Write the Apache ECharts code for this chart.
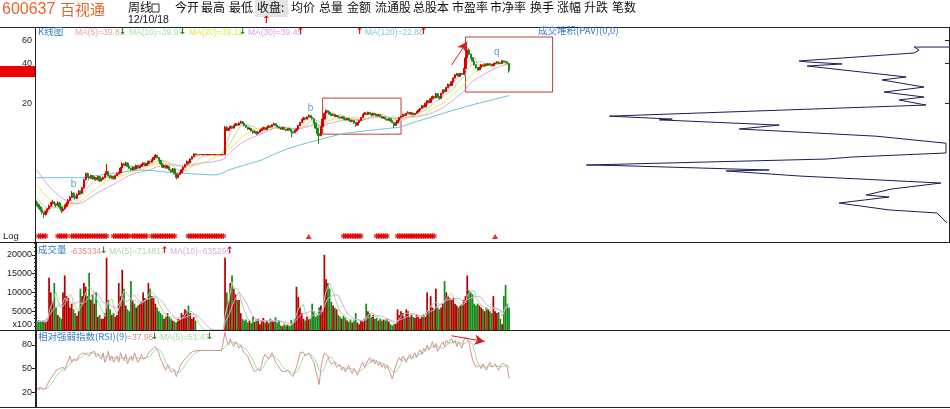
<!DOCTYPE html>
<html><head><meta charset="utf-8">
<script src="https://cdn.jsdelivr.net/npm/echarts@6/dist/echarts.min.js"></script>
<style>html,body{margin:0;padding:0;background:#fff}#c{width:950px;height:409px}</style>
</head><body><div id="c"></div>
<script>
// weekly bars
const closes=[3.45,3.3,3.15,3.0,2.9,3.05,3.2,3.35,3.5,3.6,3.5,3.4,3.55,3.3,3.1,
3.2,3.35,3.5,3.7,3.9,4.2,4.0,3.85,4.1,4.35,4.2,4.6,
5.3,5.9,5.6,5.5,
5.7,5.4,5.5,5.3,5.6,5.2,5.35,5.5,5.8,6.1,5.7,5.5,5.6,5.4,5.7,5.9,6.0,
6.5,7.0,6.8,7.1,
6.7,6.5,6.3,6.6,6.4,6.8,6.5,6.7,
6.9,7.1,6.8,7.0,7.3,7.2,7.5,7.8,8.1,7.8,
7.4,7.0,6.6,6.8,6.5,6.7,6.3,6.1,6.4,5.9,5.5,5.8,6.0,
6.3,6.6,6.9,7.3,7.1,7.6,7.9,8.3,8.2,
8.2,8.2,8.2,8.2,8.2,8.2,8.2,8.2,8.2,8.2,8.2,8.2,8.2,8.2,8.2,8.2,
13.2,
12.5,12.9,13.4,13.0,13.6,14.0,13.7,14.2,14.5,14.1,
13.6,13.2,12.8,12.9,12.4,12.0,12.2,11.8,12.1,12.5,
12.8,13.1,12.7,13.2,13.5,13.3,13.8,14.0,13.6,13.3,13.0,12.8,13.1,12.7,12.5,12.9,12.6,
12.2,12.0,12.4,12.8,
13.6,14.3,15.0,15.5,15.2,15.8,16.2,15.7,15.3,
14.2,13.0,11.8,11.4,
13.3,15.2,16.8,17.6,17.2,
16.6,16.2,16.5,15.9,16.1,15.7,15.5,15.8,15.3,15.0,15.4,14.9,14.6,14.8,14.2,13.7,14.3,14.8,
15.6,16.4,16.9,16.5,17.1,16.7,16.3,16.8,16.5,16.1,16.4,
15.9,15.5,15.7,15.2,14.9,15.3,14.7,14.3,13.6,14.2,14.9,15.6,
15.9,16.5,16.2,16.8,17.1,16.6,16.9,16.4,16.8,17.3,17.8,
18.3,19.2,18.8,20.0,20.9,20.3,21.6,22.5,22.0,23.6,
22.4,21.8,23.8,25.2,24.6,26.3,27.8,27.2,29.0,
31.0,32.8,33.4,
32.0,33.5,33.0,36.5,44.0,50.5,47.0,44.0,41.5,39.0,
37.0,35.8,37.3,39.0,38.2,39.5,38.8,39.8,39.2,38.4,
39.6,40.2,40.9,40.0,39.95,
41.8,41.2,41.0,39.85,35.2];
const opens=[3.6,3.45,3.3,3.15,3.0,2.9,3.05,3.2,3.35,3.5,3.6,3.5,3.4,3.55,3.3,
3.1,3.2,3.35,3.5,3.7,3.9,4.2,4.0,3.85,4.1,4.35,4.2,
4.6,5.3,5.9,5.6,
5.5,5.7,5.4,5.5,5.3,5.6,5.2,5.35,5.5,5.8,6.1,5.7,5.5,5.6,5.4,5.7,5.9,
6.0,6.5,7.0,6.8,
7.1,6.7,6.5,6.3,6.6,6.4,6.8,6.5,
6.7,6.9,7.1,6.8,7.0,7.3,7.2,7.5,7.8,8.1,
7.8,7.4,7.0,6.6,6.8,6.5,6.7,6.3,6.1,6.4,5.9,5.5,5.8,
6.0,6.3,6.6,6.9,7.3,7.1,7.6,7.9,8.3,
8.2,8.2,8.2,8.2,8.2,8.2,8.2,8.2,8.2,8.2,8.2,8.2,8.2,8.2,8.2,8.2,
8.2,
13.2,12.5,12.9,13.4,13.0,13.6,14.0,13.7,14.2,14.5,
14.1,13.6,13.2,12.8,12.9,12.4,12.0,12.2,11.8,12.1,
12.5,12.8,13.1,12.7,13.2,13.5,13.3,13.8,14.0,13.6,13.3,13.0,12.8,13.1,12.7,12.5,12.9,
12.6,12.2,12.0,12.4,
12.8,13.6,14.3,15.0,15.5,15.2,15.8,16.2,15.7,
15.3,14.2,13.0,11.8,
11.4,13.3,15.2,16.8,17.6,
17.2,16.6,16.2,16.5,15.9,16.1,15.7,15.5,15.8,15.3,15.0,15.4,14.9,14.6,14.8,14.2,13.7,14.3,
14.8,15.6,16.4,16.9,16.5,17.1,16.7,16.3,16.8,16.5,16.1,
16.4,15.9,15.5,15.7,15.2,14.9,15.3,14.7,14.3,13.6,14.2,14.9,
15.6,15.9,16.5,16.2,16.8,17.1,16.6,16.9,16.4,16.8,17.3,
17.8,18.3,19.2,18.8,20.0,20.9,20.3,21.6,22.5,22.0,
23.6,22.4,21.8,23.8,25.2,24.6,26.3,27.8,27.2,
29.0,31.0,32.8,
33.4,32.0,33.5,33.0,36.5,44.0,50.5,47.0,44.0,41.5,
39.0,37.0,35.8,37.3,39.0,38.2,39.5,38.8,39.8,39.2,
38.4,39.6,40.2,40.9,40.0,
39.95,41.8,41.2,41.0,39.85];
const lows=[3.35,3.2,3.05,2.9,2.72,2.85,3.0,3.15,3.3,3.45,3.4,3.3,3.35,3.2,2.98,
3.05,3.15,3.3,3.45,3.65,3.85,3.9,3.75,3.8,4.05,4.1,4.15,
4.55,5.25,5.5,5.35,
5.4,5.3,5.3,5.2,5.25,5.1,5.15,5.3,5.45,5.75,5.6,5.4,5.4,5.3,5.35,5.65,5.8,
5.95,6.45,6.7,6.75,
6.6,6.4,6.2,6.25,6.3,6.35,6.4,6.45,
6.65,6.85,6.7,6.75,6.95,7.05,7.15,7.45,7.75,7.7,
7.3,6.9,6.5,6.5,6.4,6.45,6.2,6.0,6.05,5.8,5.35,5.45,5.75,
5.95,6.25,6.55,6.85,7.0,7.05,7.55,7.85,8.1,
8.2,8.2,8.2,8.2,8.2,8.2,8.2,8.2,8.2,8.2,8.2,8.2,8.2,8.2,8.2,8.2,
8.2,
12.3,12.4,12.8,12.9,12.9,13.5,13.5,13.6,14.1,13.9,
13.4,13.0,12.6,12.6,12.2,11.8,11.9,11.5,11.7,12.0,
12.4,12.7,12.6,12.6,13.1,13.1,13.2,13.7,13.5,13.1,12.9,12.6,12.7,12.6,12.3,12.4,12.5,
11.1,11.8,11.9,12.3,
12.7,13.5,14.2,14.9,15.0,15.1,15.7,15.5,15.1,
14.0,12.8,11.3,9.9,
11.3,13.2,15.1,16.6,17.0,
16.4,16.0,16.1,15.7,15.8,15.5,15.3,15.4,15.1,14.8,14.9,14.7,14.4,14.5,14.0,13.3,13.6,14.2,
14.7,15.5,16.3,16.3,16.4,16.5,16.1,16.2,16.3,15.9,16.0,
15.7,15.3,15.4,15.0,14.7,14.8,14.5,14.1,13.0,13.5,14.1,14.8,
15.5,15.8,16.0,16.1,16.7,16.4,16.5,16.2,16.3,16.7,17.2,
17.7,18.2,18.5,18.7,19.9,20.0,20.2,21.5,21.7,21.9,
22.1,21.3,21.7,23.7,24.2,24.5,26.2,26.8,27.1,
28.9,30.8,32.3,
31.6,31.9,32.6,32.9,36.3,43.5,46.0,43.5,41.0,38.5,
36.3,35.2,35.6,37.0,37.8,38.0,38.4,38.6,38.8,38.0,
38.3,39.4,40.0,39.6,39.5,
39.8,40.8,40.5,39.4,34.0];
const highs=[3.7,3.5,3.35,3.2,3.05,3.1,3.25,3.45,3.6,3.75,3.65,3.55,3.65,3.6,3.35,
3.3,3.45,3.6,3.8,4.0,4.35,4.25,4.05,4.2,4.45,4.4,4.7,
5.4,6.0,6.0,5.7,
5.8,5.75,5.6,5.55,5.7,5.65,5.45,5.6,5.9,6.95,6.2,5.75,5.7,5.65,5.8,6.0,6.1,
6.6,7.2,7.1,7.25,
7.15,6.75,6.55,6.7,6.65,6.9,6.85,6.8,
7.0,7.2,7.15,7.1,7.4,7.4,7.6,7.9,8.3,8.15,
7.85,7.45,7.05,6.9,6.85,6.8,6.75,6.35,6.5,6.45,5.95,5.9,6.1,
6.4,6.7,7.0,7.4,7.4,7.7,8.0,8.4,8.35,
8.2,8.2,8.2,8.2,8.2,8.2,8.2,8.2,8.2,8.2,8.2,8.2,8.2,8.2,8.2,8.2,
13.5,
13.4,13.1,13.6,13.5,13.8,14.2,14.1,14.4,14.8,14.6,
14.2,13.7,13.3,13.1,13.0,12.5,12.4,12.3,12.2,12.6,
12.9,13.3,13.2,13.3,13.7,13.6,13.9,14.3,14.1,13.7,13.4,13.1,13.2,13.2,12.8,13.0,13.0,
12.7,12.3,12.5,12.9,
13.7,14.5,15.2,15.8,15.7,16.0,16.5,16.3,15.8,
15.4,14.3,13.1,12.0,
13.4,15.4,17.0,18.0,17.8,
17.3,16.7,16.7,16.6,16.3,16.2,15.8,15.9,15.9,15.4,15.5,15.5,15.0,15.0,14.9,14.3,14.4,14.9,
15.7,16.6,17.2,17.0,17.3,17.2,16.8,17.0,16.9,16.6,16.6,
16.5,16.0,15.8,15.8,15.3,15.4,15.4,14.8,14.4,14.3,15.0,15.7,
16.1,16.7,16.6,17.0,17.4,17.2,17.1,17.0,16.9,17.5,18.0,
18.5,19.5,19.4,20.2,21.2,21.0,21.8,22.9,22.7,23.9,
23.8,22.6,24.0,25.5,25.6,26.6,28.2,28.0,29.4,
31.4,33.2,33.9,
33.6,33.9,34.0,37.0,44.5,53.5,52.0,47.5,44.5,42.0,
39.5,37.6,37.8,39.6,39.4,40.0,39.9,40.3,40.2,39.6,
40.0,40.8,41.6,41.2,40.6,
42.3,42.0,41.7,41.3,40.0];
// closes of the 30 weeks before the first bar (for the moving averages)
const histCloses=[12.0,11.5,10.8,10.2,9.6,9.2,8.9,8.6,8.3,7.8,7.05,7.0,6.6,6.3,6.0,5.8,5.6,5.4,5.3,5.1,4.9,4.8,4.5,4.3,4.1,3.8,3.6,3.5,3.45,3.5];
const volumes=[2200,2600,2400,2100,2500,2000,3000,13900,10000,7500,12500,6000,4000,3500,3000,10000,14500,9000,8500,6000,
7000,5500,4500,3800,5000,11000,9000,12500,11500,9000,15200,8000,9500,7000,10000,3500,4000,3000,3000,4500,
19200,8000,5500,4000,4500,3500,4000,12500,9000,16000,11000,6500,5500,5000,13000,8000,7000,6000,6500,7000,
7500,10000,8500,8000,12500,11000,9000,8500,7000,6000,5000,4500,4000,3000,3500,4500,3500,3000,2500,2200,
2000,3000,2800,4500,4000,5500,5000,6500,4500,3000,3500,2500,
0,0,0,0,0,0,0,0,0,0,0,0,0,0,0,0,
19200,10000,7500,12500,14500,11000,9500,8000,8000,4500,3000,2500,2800,
2000,2500,1800,3500,2200,2800,3000,1500,2500,3200,2000,2600,1800,3000,2400,2200,3400,2000,
2500,1200,1000,1500,1200,1400,1000,2700,2000,3000,11500,8800,6000,4500,3000,2500,3500,2800,
3000,7000,5000,3500,4000,6000,6500,5000,20000,13500,12500,11000,7500,6500,5900,5500,
4000,3500,3000,3800,3200,2500,2200,2800,2000,2500,4500,2000,1500,2500,2200,3000,7000,5000,
4500,3500,4000,3000,3200,2500,3000,2500,2800,2600,3000,2200,1500,1200,1500,1800,5500,4000,5000,
4500,3500,5500,5000,3500,4000,3500,3200,4000,3500,3000,3800,4200,3500,10000,5000,9000,6000,5500,11000,
6000,5500,6000,7000,13000,10000,9000,8500,8000,8500,7000,6500,6000,6500,7000,8000,9000,14500,
10500,10000,9500,7000,6500,7000,6500,6000,5500,5000,6000,5500,5000,4500,9000,5000,4500,4800,3000,1500,9000,12000,7000,6000];
const rsi=[26,23,27,24,22,25,30,34,38,36,44,48,46,50,49,52,48,55,60,66,58,62,64,60,66,
68,70,72,69,71,66,70,68,72,65,68,66,62,70,58,64,72,60,66,
58,62,66,58,70,64,60,68,56,62,66,60,70,64,58,62,68,62,60,65,
70,72,74,76,78,77,70,62,58,52,48,55,50,46,44,48,40,45,
52,56,60,58,64,66,70,68,72,73,
73,73,73,73,73,73,73,73,73,73,73,73,73,73,73,73,
96,85,80,88,82,78,84,80,76,80,74,70,72,
66,60,55,50,46,44,50,47,55,64,68,66,62,66,70,64,58,
56,52,48,50,46,44,48,45,43,40,46,52,
60,70,68,71,66,68,70,66,62,58,48,40,30,
50,62,70,72,66,60,56,
54,58,52,50,55,48,52,46,50,54,48,44,50,46,42,48,54,58,52,56,
60,64,58,62,56,60,54,58,52,56,50,54,48,44,37,
46,54,60,64,60,66,62,58,64,68,62,66,70,64,
70,74,68,76,72,80,74,78,
84,76,82,72,70,80,84,78,86,82,80,
88,82,86,78,84,80,76,86,90,92,
84,72,62,56,52,50,
54,50,56,52,48,54,58,52,50,56,52,48,54,
52,57,58.4,52,37.96];
const ma120=[5.5,5.5,5.5,5.5,5.5,5.5,5.5,5.5,5.5,5.5,5.5,5.5,5.5,5.5,5.5,5.5,5.5,5.5,5.5,5.5,5.5,5.5,5.5,5.5,5.5,5.5,5.5,
5.52,5.54,5.57,5.59,5.62,5.64,5.67,5.69,5.72,5.74,5.77,5.79,5.82,5.84,5.87,5.89,5.92,5.94,5.97,5.99,6.02,6.04,6.07,6.09,6.12,6.14,6.17,6.19,6.21,6.23,6.25,6.27,6.28,
6.28,6.27,6.26,6.25,6.24,6.22,6.21,6.19,6.18,6.16,6.14,6.12,6.10,6.09,6.07,6.05,6.04,6.02,6.01,5.99,5.98,5.96,5.95,
5.94,5.93,5.92,5.91,5.90,5.89,5.88,5.87,5.86,5.85,5.84,5.83,5.82,5.81,5.80,5.79,5.78,5.78,5.77,5.77,5.76,
5.8,5.86,5.93,6.0,6.08,6.17,6.28,
6.34,6.4,6.46,6.52,6.58,6.65,6.71,6.77,6.83,6.9,6.96,7.02,7.08,7.15,7.21,7.27,7.34,7.4,7.47,
7.57,7.68,7.79,7.9,8.01,8.12,8.23,8.34,8.45,8.56,8.67,8.78,8.89,8.99,9.1,9.2,
9.28,9.37,9.45,9.54,9.62,9.71,9.79,9.88,9.96,10.05,10.13,10.22,10.3,10.39,10.47,10.56,10.64,10.73,10.81,10.9,10.98,11.07,11.15,11.24,11.32,11.41,11.49,11.58,11.66,11.74,11.82,11.9,
11.94,11.98,12.03,12.07,12.11,12.15,12.2,12.24,12.28,12.32,12.37,12.41,12.45,12.49,12.53,12.58,12.62,12.66,12.7,12.74,12.78,12.82,12.86,12.9,12.94,12.98,13.02,13.06,13.1,13.15,13.2,
13.33,13.46,13.6,13.74,13.88,14.02,14.16,14.3,14.44,14.58,14.72,14.86,15.0,15.13,15.26,15.38,15.5,
15.66,15.82,15.98,16.14,16.3,16.46,16.62,16.78,16.94,17.1,17.26,17.42,17.58,17.74,17.9,18.05,18.2,18.35,18.5,
18.66,18.82,18.98,19.14,19.3,19.46,19.62,19.78,19.94,20.1,20.26,20.42,20.58,20.74,20.9,21.06,21.22,21.38,21.54,21.7,21.86,22.02,22.18,22.35,22.52,22.69,22.86];
// volume-at-price profile (成交堆积): horizontal extent and price level
const profVol=[0,35,30,35,150,142,107,142,140,43,67,25,65,25,50,23,340,277,290,170,210,73,3,3,97,123,363,337,180,223,150,8,57,83,60,110,60,12,2];
const profPrice=[53.1,53.1,50.4,47.9,41.7,41.0,39.6,38.2,37.6,31.6,30.0,26.5,24.3,22.3,21.2,19.4,16.0,15.2,15.0,13.7,12.8,11.3,10.0,8.44,7.87,7.6,6.85,6.8,6.28,6.18,5.66,5.01,4.52,4.07,3.93,3.54,3.14,2.98,2.5];
const starRanges=[[1,5],[12,17],[20,40],[44,53],[55,63],[66,79],[87,107],[176,186],[195,201],[207,228]];
const triBars=[156,263];
const notes=[[20.7,4.93,'b'],[156.6,18.4,'b'],[264.4,48.7,'q']];
const priceTicks=[20,40,60];
const rsiTicks=[20,50,80];
const volTicks=[0,5000,10000,15000,20000];

const N=closes.length, M=524;
const L=Math.log;
const cats=Array.from({length:M},(_,i)=>i);
const kdata=closes.map((c,i)=>[L(opens[i]),L(c),L(lows[i]),L(highs[i])]);
function maFrom(arr,n,hist){const all=hist.concat(arr);const h=hist.length;return arr.map((_,i)=>{let s=0,k=0;for(let j=h+i;j>h+i-n&&j>=0;j--){s+=all[j];k++;}return s/k;});}
function ma(arr,n){return arr.map((_,i)=>{let s=0,k=0;for(let j=i;j>i-n&&j>=0;j--){s+=arr[j];k++;}return +(s/k).toFixed(2);});}
const ma5=maFrom(closes,5,histCloses).map(L),ma10=maFrom(closes,10,histCloses).map(L),ma20=maFrom(closes,20,histCloses).map(L),ma30=maFrom(closes,30,histCloses).map(L);
const vma5=ma(volumes,5),vma10=ma(volumes,10),rsiMa5=ma(rsi,5);
const up=closes.map((c,i)=>c>=opens[i]);
const starBars=[];starRanges.forEach(([a,b])=>{for(let i=a;i<=b;i++)starBars.push(i);});
const RED='#d80000',GREEN='#1a8a1a';
const yMin=L(20)-(242-103.3)/57.6, yMax=L(20)+(103.3-28)/57.6;
const starY=L(20)-(236.5-103.3)/57.6;
const lbl={color:'#222',fontSize:9,fontFamily:'Liberation Sans, Arial',margin:4};

const chart=echarts.init(document.getElementById('c'),null,{renderer:'canvas'});
const gridBase={left:36,right:1,show:false};
function txt(x,y,s,c,f){return {type:'text',left:x,top:y,z:100,style:{text:s,fill:c,font:f||'9.5px "Noto Sans CJK SC"'}};}
function hline(y){return {type:'line',z:90,shape:{x1:0,y1:y,x2:950,y2:y},style:{stroke:'#222',lineWidth:1}};}
const LF='8.5px "Liberation Sans"', CJ='9.5px "Noto Sans CJK SC"', AR='bold 9px "DejaVu Sans"', MF='12px "Noto Sans CJK SC"';
const CLEAR='rgba(0,0,0,0)';
const option={
 animation:false,
 backgroundColor:'#fff',
 grid:[Object.assign({top:28,height:214},gridBase),Object.assign({top:242,height:88},gridBase),Object.assign({top:330,height:77},gridBase)],
 xAxis:[0,1,2].map(g=>({type:'category',gridIndex:g,data:cats,boundaryGap:true,axisLine:{show:false},axisTick:{show:false},axisLabel:{show:false},splitLine:{show:false}})).concat([{type:'value',gridIndex:0,show:false,inverse:true,min:0,max:914}]),
 yAxis:[
  {type:'value',gridIndex:0,min:yMin,max:yMax,axisLine:{show:true,lineStyle:{color:'#222'}},axisTick:{show:true,length:4,lineStyle:{color:'#222'},customValues:priceTicks.map(L)},axisLabel:Object.assign({customValues:priceTicks.map(L),formatter:v=>String(Math.round(Math.exp(v)))},lbl),splitLine:{show:false}},
  {type:'value',gridIndex:1,min:0,max:23400,interval:5000,axisLine:{show:true,lineStyle:{color:'#222'}},axisTick:{show:true,length:4,lineStyle:{color:'#222'},customValues:volTicks},minorTick:{show:true,splitNumber:5,length:2,lineStyle:{color:'#222'}},axisLabel:Object.assign({customValues:volTicks,formatter:v=>v===0?'{a|x100}':String(v),rich:{a:{fontSize:9,color:'#222',fontFamily:'Liberation Sans',padding:[0,0,11,0]}}},lbl),splitLine:{show:false}},
  {type:'value',gridIndex:2,min:1.7,max:98.8,axisLine:{show:true,lineStyle:{color:'#222'}},axisTick:{show:true,length:4,lineStyle:{color:'#222'},customValues:rsiTicks},axisLabel:Object.assign({customValues:rsiTicks},lbl),splitLine:{show:false}}
 ],
 series:[
  {type:'line',xAxisIndex:0,yAxisIndex:0,data:ma5,symbol:'none',z:2,lineStyle:{color:'#f4b0b0',width:1}},
  {type:'line',xAxisIndex:0,yAxisIndex:0,data:ma10,symbol:'none',z:2,lineStyle:{color:'#a8e0a8',width:1}},
  {type:'line',xAxisIndex:0,yAxisIndex:0,data:ma20,symbol:'none',z:2,lineStyle:{color:'#ecec50',width:1}},
  {type:'line',xAxisIndex:0,yAxisIndex:0,data:ma30,symbol:'none',z:2,lineStyle:{color:'#e0a0ec',width:1}},
  {type:'line',xAxisIndex:0,yAxisIndex:0,data:ma120.map(L),symbol:'none',z:2,lineStyle:{color:'#6cc4d4',width:1}},
  {type:'candlestick',xAxisIndex:0,yAxisIndex:0,data:kdata,barWidth:1.8,z:3,itemStyle:{color:RED,color0:GREEN,borderColor:RED,borderColor0:GREEN,borderWidth:1},
   markArea:{silent:true,itemStyle:{color:CLEAR,borderColor:'#c03a3a',borderWidth:1},data:[[{coord:[163.8,L(21.9)]},{coord:[209.0,L(11.7)]}],[{coord:[246.0,L(63.2)]},{coord:[296.2,L(24.3)]}]]},
   markLine:{silent:true,symbol:['none','arrow'],symbolSize:[8,10],lineStyle:{color:'#d02020',width:1,type:'solid'},label:{show:false},data:[[{coord:[237.8,L(38.9)]},{coord:[247.3,L(58.3)]}]]}},
  {type:'line',xAxisIndex:3,yAxisIndex:0,data:profVol.map((v,i)=>[v,L(profPrice[i])]),symbol:'none',lineStyle:{color:'#1c1c5a',width:1}},
  {type:'scatter',xAxisIndex:0,yAxisIndex:0,z:5,data:starBars.map(i=>[i,starY]),symbolSize:1,itemStyle:{color:CLEAR},label:{show:true,position:'inside',formatter:'✱',color:'#e00000',fontSize:8,fontFamily:'DejaVu Sans'},labelLayout:{hideOverlap:false}},
  {type:'scatter',xAxisIndex:0,yAxisIndex:0,z:5,data:triBars.map(i=>[i,starY]),symbol:'triangle',symbolSize:[6,5],itemStyle:{color:'#e00000'}},
  {type:'scatter',xAxisIndex:0,yAxisIndex:0,z:5,data:notes.map(n=>[n[0],L(n[1]),n[2]]),symbolSize:1,itemStyle:{color:CLEAR},label:{show:true,position:'inside',formatter:p=>p.data[2],color:'#3a86c8',fontSize:10,fontFamily:'Liberation Sans'}},
  {type:'bar',xAxisIndex:1,yAxisIndex:1,data:volumes.map((v,i)=>({value:v,itemStyle:{color:up[i]?'#b80000':GREEN}})),barWidth:1.75},
  {type:'line',xAxisIndex:1,yAxisIndex:1,data:vma5,symbol:'none',lineStyle:{color:'#a0dca0',width:1}},
  {type:'line',xAxisIndex:1,yAxisIndex:1,data:vma10,symbol:'none',lineStyle:{color:'#dca8e4',width:1}},
  {type:'line',xAxisIndex:2,yAxisIndex:2,data:rsiMa5,symbol:'none',lineStyle:{color:'#a8dca8',width:1}},
  {type:'line',xAxisIndex:2,yAxisIndex:2,data:rsi,symbol:'none',lineStyle:{color:'#d09494',width:1},
   markLine:{silent:true,symbol:['none','arrow'],symbolSize:[8,10],lineStyle:{color:'#d02020',width:1,type:'solid'},label:{show:false},data:[[{coord:[237.8,91.5]},{coord:[256.9,84.3]}]]}}
 ],
 graphic:[
  hline(27.5),hline(242.5),hline(330.5),hline(407.5),
  {type:'line',z:90,shape:{x1:35.5,y1:27,x2:35.5,y2:408},style:{stroke:'#222',lineWidth:1}},
  txt(2,2,'600637','#e8642c','16px "Liberation Sans"'),txt(60,2,'百视通','#e8642c','15px "Noto Sans CJK SC"'),
  txt(128,1,'周线','#111',MF),
  {type:'rect',z:100,shape:{x:152,y:4,width:7,height:8},style:{fill:'#fff',stroke:'#333'}},
  txt(128,15,'12/10/18','#111','10.5px "Liberation Sans"'),
  {type:'rect',z:99,shape:{x:255,y:0,width:33,height:17},style:{fill:'#e4e4e4'}},
  txt(175,1,'今开','#111',MF),txt(201,1,'最高','#111',MF),txt(229,1,'最低','#111',MF),
  txt(257,1,'收盘:','#111',MF),txt(291,1,'均价','#111',MF),txt(319,1,'总量','#111',MF),
  txt(347,1,'金额','#111',MF),txt(375,1,'流通股','#111',MF),txt(413,1,'总股本','#111',MF),
  txt(452,1,'市盈率','#111',MF),txt(490,1,'市净率','#111',MF),txt(530,1,'换手','#111',MF),
  txt(557,1,'涨幅','#111',MF),txt(584,1,'升跌','#111',MF),txt(612,1,'笔数','#111',MF),
  txt(262,15,'↑','#e00000','bold 10px "DejaVu Sans"'),
  txt(38,27,'K线图','#3a7ac8',CJ),
  txt(75,28,'MA(5)=39.81','#f0a0a0',LF),txt(119,27,'↓',GREEN,AR),
  txt(129,28,'MA(10)=39.97','#a8dca8',LF),txt(179,27,'↓',GREEN,AR),
  txt(189,28,'MA(20)=39.11','#e4e440',LF),txt(239,27,'↓',GREEN,AR),
  txt(248,28,'MA(30)=39.45','#e09ce8',LF),txt(297,27,'↑','#e00000',AR),
  txt(356,27,'↑','#e00000',AR),txt(365,28,'MA(120)=22.86','#80c8d8',LF),txt(420,27,'↑','#e00000',AR),
  txt(538,26,'成交堆积(PAV)(0,0)','#3a7ac8',CJ),
  txt(3,231,'Log','#222','9.5px "Liberation Sans"'),
  txt(38,245,'成交量','#3a7ac8',CJ),
  txt(70,247,'-635334','#e09090',LF),txt(100,246,'↓',GREEN,AR),
  txt(109,247,'MA(5)=714817','#a8dca8',LF),txt(161,246,'↑','#e00000',AR),
  txt(170,247,'MA(10)=635295','#dca8e4',LF),txt(226,246,'↑','#e00000',AR),
  txt(38,332,'相对强弱指数(RSI)(9)','#3a7ac8',CJ),
  txt(127,333,'=37.96','#e09090',LF),txt(151,332,'↓',GREEN,AR),
  txt(160,333,'MA(5)=51.47','#a8dca8',LF),txt(206,332,'↓',GREEN,AR)
 ]
};
chart.setOption(option);
const py=chart.convertToPixel({yAxisIndex:0},L(closes[N-1]));
chart.setOption({graphic:option.graphic.concat([{type:'rect',z:95,shape:{x:0,y:Math.round(py)-5,width:35,height:11},style:{fill:'#ee0000'}}])});
</script></body></html>
